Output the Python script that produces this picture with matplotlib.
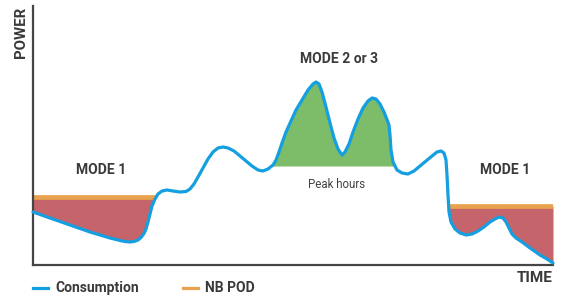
import numpy as np
import matplotlib
matplotlib.use("Agg")
import matplotlib.pyplot as plt
from matplotlib.lines import Line2D

plt.rcParams['font.family'] = ['Roboto', 'DejaVu Sans']

# ---- data (time, power) ----
time = [0, 17, 37, 57, 77, 87, 92, 97, 101, 105, 108, 111, 113, 115, 117, 119, 122, 125, 129, 134,
        140, 147, 153, 157, 161, 165, 170, 175, 180, 185, 190, 195, 201, 207, 213, 219, 225,
        230, 235, 240, 243, 246, 249, 253, 258, 263, 269, 275, 280, 283, 286, 289, 293, 297,
        301, 305, 309, 312, 316, 320, 325, 330, 335, 339, 343, 347, 351, 353, 356, 357, 358,
        360, 364, 369, 375, 381, 387, 393, 399, 404, 408, 411, 413, 414, 415, 416, 418, 422,
        427, 433, 439, 445, 451, 457, 462, 466, 470, 473, 476, 479, 483, 489, 497, 507, 514, 520]
consumption = [53, 47, 40, 33, 27, 24.5, 23.5, 23, 23.5, 25, 27.5, 31.5, 36, 43, 51, 59, 66, 71, 74, 75,
               74, 73, 73.5, 76, 81, 88, 97, 106, 113, 117, 118, 117, 114, 109, 104, 99, 95,
               94, 96, 100, 105, 113, 122, 133, 144, 155, 165, 175, 181, 183, 181, 173, 158, 142,
               127, 116, 110, 113, 121, 133, 146, 157, 164, 167, 166, 161, 153, 148, 140, 130, 115,
               103, 95, 92, 91, 94, 99, 104, 109, 113, 114, 112, 105, 90, 70, 53, 43, 36,
               32, 30, 31, 34, 38, 43, 46, 48, 47, 43, 37, 31, 27, 23, 17, 10, 6, 2]
nb_pod_left_level = 68
nb_pod_left_span = [0, 123]
nb_pod_right_level = 59
nb_pod_right_span = [416, 520]
peak_level = 99
peak_span = [235, 380]

legend_labels = ["Consumption", "NB POD"]

# ---- styling ----
BLUE = "#139fe0"
ORANGE = "#e9a24e"
RED = "#c5646a"
GREEN = "#7dbd69"
DARK = "#3a3a3a"

W, H = 570, 297
fig = plt.figure(figsize=(W / 100, H / 100), dpi=100)
ax = fig.add_axes([33 / W, 1 - 265 / H, 520 / W, 259 / H])

t = np.array(time, dtype=float)
c = np.array(consumption, dtype=float)

# red fills (consumption below NB POD)
ax.fill_between(t, c, nb_pod_left_level,
                where=(c <= nb_pod_left_level) & (t <= nb_pod_left_span[1] + 2),
                interpolate=True, color=RED, lw=0)
ax.fill_between(t, c, nb_pod_right_level,
                where=(c <= nb_pod_right_level) & (t >= nb_pod_right_span[0] - 2),
                interpolate=True, color=RED, lw=0)
# green fill (peak hours)
ax.fill_between(t, c, peak_level,
                where=(c >= peak_level) & (t >= peak_span[0]) & (t <= peak_span[1]),
                interpolate=True, color=GREEN, lw=0)

# NB POD lines
ax.plot(nb_pod_left_span, [nb_pod_left_level] * 2, color=ORANGE, lw=3.4,
        solid_capstyle='butt')
ax.plot(nb_pod_right_span, [nb_pod_right_level] * 2, color=ORANGE, lw=3.4,
        solid_capstyle='butt')

# consumption curve
ax.plot(t, c, color=BLUE, lw=2.3, solid_joinstyle='round', solid_capstyle='round',
        clip_on=False, zorder=5)

ax.set_xlim(0, 520)
ax.set_ylim(0, 259)
ax.set_xticks([])
ax.set_yticks([])
for s in ['top', 'right']:
    ax.spines[s].set_visible(False)
for s in ['left', 'bottom']:
    ax.spines[s].set_color("#454545")
    ax.spines[s].set_linewidth(1.6)

# annotations
ax.text(68, 95, "MODE 1", ha='center', va='center', fontsize=10, fontweight='bold', color=DARK)
ax.text(472, 95, "MODE 1", ha='center', va='center', fontsize=10, fontweight='bold', color=DARK)
ax.text(306, 206, "MODE 2 or 3", ha='center', va='center', fontsize=10, fontweight='bold', color=DARK)
ax.text(304, 80, "Peak hours", ha='center', va='center', fontsize=8.3, color="#444444")

fig.text(21 / W, 1 - 7 / H, "POWER", rotation=90, ha='center', va='top',
         fontsize=10.8, fontweight='bold', color=DARK)
fig.text(553 / W, 1 - 278 / H, "TIME", ha='right', va='center',
         fontsize=11, fontweight='bold', color=DARK)

# legend
ly = 1 - 288 / H
fig.add_artist(Line2D([33 / W, 48 / W], [ly, ly], color=BLUE, lw=2.3))
fig.text(55 / W, ly, legend_labels[0], ha='left', va='center', fontsize=10,
         fontweight='bold', color=DARK)
fig.add_artist(Line2D([183 / W, 198 / W], [ly, ly], color=ORANGE, lw=2.3))
fig.text(205 / W, ly, legend_labels[1], ha='left', va='center', fontsize=10,
         fontweight='bold', color=DARK)

fig.savefig("out.png", dpi=100)
